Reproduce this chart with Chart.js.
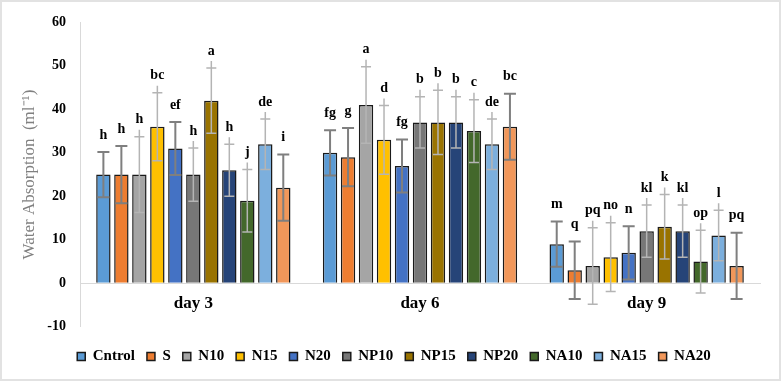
<!DOCTYPE html>
<html>
<head>
<meta charset="utf-8">
<script src="https://cdn.jsdelivr.net/npm/chart.js@4.4.0/dist/chart.umd.min.js"></script>
<style>
    html, body { margin: 0; padding: 0; background: #ffffff; }
    #wrap { width: 781px; height: 381px; position: relative; }
</style>
</head>
<body>
<div id="wrap"><canvas id="absorptionChart"></canvas></div>
<script>
// Categories and treatments
const days = ['day 3', 'day 6', 'day 9'];
const treatments = ['Cntrol', 'S', 'N10', 'N15', 'N20', 'NP10', 'NP15', 'NP20', 'NA10', 'NA15', 'NA20'];

// Mean water absorption per treatment: [day 3, day 6, day 9]
const cntrolValues = [25, 30, 9];
const sValues = [25, 29, 3];
const n10Values = [25, 41, 4];
const n15Values = [36, 33, 6];
const n20Values = [31, 27, 7];
const np10Values = [25, 37, 12];
const np15Values = [42, 37, 13];
const np20Values = [26, 37, 12];
const na10Values = [19, 35, 5];
const na15Values = [32, 32, 11];
const na20Values = [22, 36, 4];

// Error bar (+/-) per treatment: [day 3, day 6, day 9]
const cntrolErr = [5.2, 5.2, 5.2];
const sErr = [6.6, 6.7, 6.6];
const n10Err = [8.7, 8.8, 8.8];
const n15Err = [7.8, 7.9, 7.9];
const n20Err = [6.1, 6.1, 6.1];
const np10Err = [6.1, 5.9, 6.0];
const np15Err = [7.5, 7.4, 7.4];
const np20Err = [6.0, 5.9, 6.0];
const na10Err = [7.2, 7.2, 7.2];
const na15Err = [5.8, 5.8, 5.8];
const na20Err = [7.6, 7.6, 7.6];

// Significance letters over each bar: [day 3, day 6, day 9]
const cntrolLetters = ['h', 'fg', 'm'];
const sLetters = ['h', 'g', 'q'];
const n10Letters = ['h', 'a', 'pq'];
const n15Letters = ['bc', 'd', 'no'];
const n20Letters = ['ef', 'fg', 'n'];
const np10Letters = ['h', 'b', 'kl'];
const np15Letters = ['a', 'b', 'k'];
const np20Letters = ['h', 'b', 'kl'];
const na10Letters = ['j', 'c', 'op'];
const na15Letters = ['de', 'de', 'l'];
const na20Letters = ['i', 'bc', 'pq'];

// Y axis range
const yMin = -10;
const yMax = 60;
const yStep = 10;

const allValues = [cntrolValues, sValues, n10Values, n15Values, n20Values, np10Values, np15Values, np20Values, na10Values, na15Values, na20Values];
const allErrors = [cntrolErr, sErr, n10Err, n15Err, n20Err, np10Err, np15Err, np20Err, na10Err, na15Err, na20Err];
const allLetters = [cntrolLetters, sLetters, n10Letters, n15Letters, n20Letters, np10Letters, np15Letters, np20Letters, na10Letters, na15Letters, na20Letters];

// Cores no estilo do Excel
const barColors = ['#5B9BD5', '#ED7D31', '#A5A5A5', '#FFC000', '#4472C4', '#777777', '#997300', '#264478', '#43682B', '#7CAFDD', '#F1975A'];
// Some error bars are dark, others light with the line running past the cap
const darkErr = [true, true, false, false, true, false, false, false, false, false, true];

const SERIF = "'Liberation Serif', 'Times New Roman', serif";

// Draws the error bars and the letters using the chart's own scales
const errorBarPlugin = {
    id: 'errorBars',
    afterDatasetsDraw(chart) {
        const ctx = chart.ctx;
        const yScale = chart.scales.y;
        ctx.save();
        chart.data.datasets.forEach((ds, i) => {
            const meta = chart.getDatasetMeta(i);
            meta.data.forEach((bar, j) => {
                const v = allValues[i][j];
                const e = allErrors[i][j];
                const yTop = yScale.getPixelForValue(v + e);
                const yBot = yScale.getPixelForValue(v - e);
                const dark = darkErr[i];
                const half = dark ? 6 : 5;
                ctx.strokeStyle = dark ? '#7f7f7f' : '#b4b4b4';
                ctx.lineWidth = dark ? 2 : 1.5;
                ctx.beginPath();
                ctx.moveTo(bar.x, dark ? yTop : yTop - 7);
                ctx.lineTo(bar.x, yBot);
                ctx.moveTo(bar.x - half, yTop);
                ctx.lineTo(bar.x + half, yTop);
                ctx.moveTo(bar.x - half, yBot);
                ctx.lineTo(bar.x + half, yBot);
                ctx.stroke();

                ctx.fillStyle = '#000000';
                ctx.font = 'bold 14px ' + SERIF;
                ctx.textAlign = 'center';
                ctx.textBaseline = 'middle';
                ctx.fillText(allLetters[i][j], bar.x, yTop - 17);
            });
        });
        ctx.restore();
    }
};

// Light frame around the whole figure
const framePlugin = {
    id: 'frame',
    beforeDraw(chart) {
        const ctx = chart.ctx;
        ctx.save();
        ctx.fillStyle = '#ffffff';
        ctx.fillRect(0, 0, chart.width, chart.height);
        ctx.strokeStyle = '#e2e2e2';
        ctx.lineWidth = 2;
        ctx.strokeRect(1, 1, chart.width - 2, chart.height - 2);
        ctx.restore();
    }
};

function renderAbsorptionChart() {
    const ctx = document.getElementById('absorptionChart').getContext('2d');

    const datasets = treatments.map((name, i) => ({
        label: name,
        data: allValues[i],
        backgroundColor: barColors[i],
        borderColor: '#1a1a1a',
        borderWidth: 1.5,
        categoryPercentage: 0.873,
        barPercentage: 0.8
    }));

    new Chart(ctx, {
        type: 'bar',
        data: { labels: days, datasets: datasets },
        plugins: [framePlugin, errorBarPlugin],
        options: {
            responsive: true,
            maintainAspectRatio: false,
            animation: false,
            layout: { padding: { top: 21, right: 21, left: 28, bottom: 7 } },
            plugins: {
                legend: {
                    position: 'bottom',
                    title: { display: true, text: '', font: { size: 1 }, padding: { top: 0, bottom: 9 } },
                    labels: {
                        boxWidth: 8,
                        boxHeight: 8,
                        padding: 12,
                        color: '#000000',
                        font: { family: SERIF, size: 15, weight: 'bold' }
                    }
                },
                tooltip: { enabled: false }
            },
            scales: {
                x: {
                    position: { y: 0 },
                    grid: { display: false },
                    border: { color: '#d9d9d9', width: 1 },
                    ticks: {
                        color: '#000000',
                        padding: 2,
                        font: { family: SERIF, size: 17, weight: 'bold' }
                    }
                },
                y: {
                    min: yMin,
                    max: yMax,
                    afterFit(scale) { scale.width = 52; },
                    grid: { color: 'transparent', drawTicks: false },
                    border: { color: '#d9d9d9', width: 1 },
                    ticks: {
                        stepSize: yStep,
                        color: '#000000',
                        padding: 14,
                        font: { family: SERIF, size: 14, weight: 'bold' }
                    },
                    title: {
                        display: true,
                        text: 'Water Absorption  (ml\u207B\u00B9)',
                        color: '#808080',
                        padding: { top: -8.2, bottom: 0 },
                        font: { family: SERIF, size: 17 }
                    }
                }
            }
        }
    });
}

renderAbsorptionChart();
</script>
</body>
</html>
